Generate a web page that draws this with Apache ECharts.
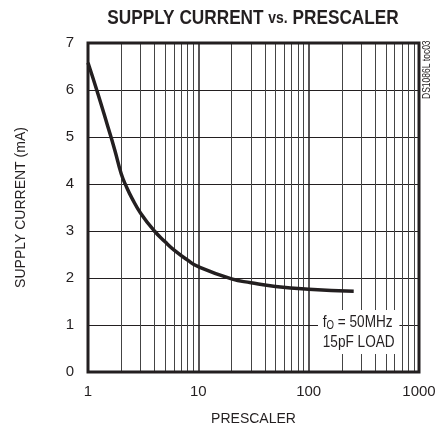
<!DOCTYPE html>
<html>
<head>
<meta charset="utf-8">
<script src="https://cdn.jsdelivr.net/npm/echarts@6/dist/echarts.min.js"></script>
<style>
  html, body { margin: 0; padding: 0; background: #fff; }
  #main { width: 445px; height: 435px; }
</style>
</head>
<body>
<div id="main"></div>
<script>
// 曲线数据（从图上读出来的）
const prescaler = [1, 1.2, 1.5, 1.75, 2, 2.25, 2.5, 3, 4, 5, 6, 8, 10, 20, 30, 50, 100, 256]
const supplyCurrent = [6.58, 6.0, 5.25, 4.72, 4.22, 3.92, 3.7, 3.38, 3.0, 2.77, 2.6, 2.38, 2.24, 1.98, 1.9, 1.82, 1.76, 1.72]
// 对数轴的次网格线
const minorGrid = [2, 3, 4, 5, 6, 7, 8, 9, 20, 30, 40, 50, 60, 70, 80, 90, 200, 300, 400, 500, 600, 700, 800, 900]
const yTicks = [0, 1, 2, 3, 4, 5, 6, 7]

;(function () {
  let myChart = echarts.init(document.getElementById('main'))
  const ink = '#231f20'
  const font = "'Liberation Sans Narrow', 'Liberation Sans', Arial, sans-serif"

  let option = {
    animation: false,
    // 标题、标注都用 graphic，横向压缩模拟窄体字
    graphic: [
      {
        type: 'text',
        x: 253,
        y: 18,
        scaleX: 0.82,
        style: {
          text: 'SUPPLY CURRENT {s|vs.} PRESCALER',
          font: 'bold 21px ' + font,
          fill: ink,
          align: 'center',
          verticalAlign: 'middle',
          rich: {
            s: { font: 'bold 17px ' + font, fill: ink }
          }
        }
      },
      {
        type: 'text',
        x: 318,
        y: 310,
        z: 100,
        scaleX: 0.8,
        style: {
          text: '{a|f}{s|O}{a| = 50MHz}\n{a|15pF LOAD}',
          font: '17px ' + font,
          fill: ink,
          align: 'left',
          verticalAlign: 'top',
          backgroundColor: '#fff',
          padding: [2, 6, 2, 6],
          rich: {
            a: { font: '17px ' + font, fill: ink, lineHeight: 20 },
            s: { font: '12px ' + font, fill: ink, lineHeight: 20, verticalAlign: 'bottom', padding: [7, 0, 0, 0] }
          }
        }
      },
      {
        type: 'text',
        x: 422,
        y: 99,
        rotation: Math.PI / 2,
        scaleX: 0.85,
        style: {
          text: 'DS1086L toc03',
          font: '10px ' + font,
          fill: ink
        }
      }
    ],
    grid: {
      left: 88,
      right: 26,
      top: 43,
      bottom: 63,
      show: true,
      borderColor: ink,
      borderWidth: 3,
      z: 10
    },
    xAxis: {
      type: 'log',
      logBase: 10,
      min: 1,
      max: 1000,
      name: 'PRESCALER',
      nameLocation: 'middle',
      nameGap: 40,
      nameTextStyle: { fontFamily: font, fontSize: 14, color: ink },
      axisLine: { show: false },
      axisTick: { show: false },
      axisLabel: {
        fontFamily: font,
        fontSize: 15,
        color: ink,
        margin: 12,
        formatter: function (v) { return String(v) }
      },
      splitLine: { show: true, lineStyle: { color: ink, width: 1.5 } }
    },
    yAxis: {
      type: 'value',
      min: yTicks[0],
      max: yTicks[yTicks.length - 1],
      interval: 1,
      name: 'SUPPLY CURRENT (mA)',
      nameLocation: 'middle',
      nameGap: 60,
      nameTextStyle: { fontFamily: font, fontSize: 14, color: ink },
      axisLine: { show: false },
      axisTick: { show: false },
      axisLabel: { fontFamily: font, fontSize: 15, color: ink, margin: 14 },
      splitLine: { show: true, lineStyle: { color: ink, width: 1.2 } }
    },
    series: [
      {
        // 次网格线
        type: 'line',
        data: [],
        silent: true,
        markLine: {
          silent: true,
          symbol: ['none', 'none'],
          label: { show: false },
          animation: false,
          lineStyle: { color: '#444', width: 1, type: 'solid' },
          data: minorGrid.map(v => ({ xAxis: v }))
        }
      },
      {
        name: 'supply',
        type: 'line',
        smooth: 0.5,
        showSymbol: false,
        z: 5,
        lineStyle: { color: ink, width: 3.5 },
        data: prescaler.map((x, i) => [x, supplyCurrent[i]])
      }
    ]
  }

  myChart.setOption(option)

  window.addEventListener('resize', function () {
    myChart.resize()
  })
})();
</script>
</body>
</html>
